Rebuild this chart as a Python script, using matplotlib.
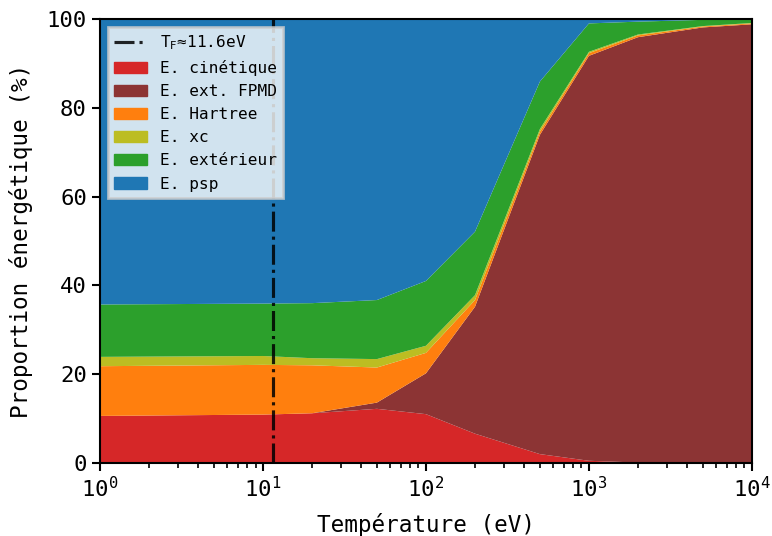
import numpy as np
import matplotlib
matplotlib.use('Agg')
import matplotlib.pyplot as plt
from matplotlib.lines import Line2D
from matplotlib.patches import Patch

plt.rcParams['font.family'] = ['DejaVu Sans Mono']
plt.rcParams['axes.linewidth'] = 1.5

# températures (eV)
T = [1, 10, 20, 50, 100, 200, 500, 1000, 2000, 5000, 10000]

# proportions (%)
e_cin = [10.6, 10.9, 11.2, 12.2, 11.0, 6.6, 2.0, 0.5, 0.1, 0.0, 0.0]
e_fpmd = [0.0, 0.0, 0.0, 1.4, 9.2, 28.6, 71.9, 91.2, 95.8, 98.1, 98.8]
e_hartree = [11.2, 11.2, 10.8, 7.9, 4.6, 1.5, 0.7, 0.6, 0.4, 0.2, 0.2]
e_xc = [2.1, 2.0, 1.6, 1.9, 1.6, 1.1, 0.6, 0.3, 0.2, 0.1, 0.1]
e_ext = [11.8, 11.8, 12.4, 13.3, 14.6, 14.3, 10.7, 6.4, 2.9, 1.4, 0.8]
e_psp = [64.3, 64.1, 64.0, 63.3, 59.0, 47.9, 14.1, 1.0, 0.6, 0.2, 0.1]

labels = ['E. cinétique', 'E. ext. FPMD', 'E. Hartree', 'E. xc', 'E. extérieur', 'E. psp']
colors = ['#d62728', '#8c3434', '#ff7f0e', '#bcbd22', '#2ca02c', '#1f77b4']
T_F = 11.6

fig = plt.figure(figsize=(7.72, 5.36), dpi=100)
ax = fig.add_axes([0.1295, 0.1362, 0.8445, 0.8284])

ax.stackplot(T, e_cin, e_fpmd, e_hartree, e_xc, e_ext, e_psp, colors=colors, labels=labels)
ax.axvline(T_F, color='k', ls='-.', lw=2.25, alpha=0.85)

ax.set_xscale('log')
ax.set_xlim(1, 1e4)
ax.set_ylim(0, 100)
ax.set_xlabel('Température (eV)', fontsize=16.3, labelpad=8)
ax.set_ylabel('Proportion énergétique (%)', fontsize=16.3, labelpad=10)
ax.tick_params(axis='both', which='major', labelsize=16, length=6, width=1.5)
ax.tick_params(axis='x', which='minor', length=3.5, width=1.2)

handles = [Line2D([], [], color='k', ls='-.', lw=2.25, alpha=0.85)]
handles += [Patch(color=c) for c in colors]
names = ['T$_\\mathrm{F}$≈11.6eV'] + labels
leg = ax.legend(handles, names, loc='upper left', fontsize=11.6, fancybox=False,
                framealpha=0.8, edgecolor='0.8')
leg.get_frame().set_linewidth(2)

fig.savefig('out.png', dpi=100)
